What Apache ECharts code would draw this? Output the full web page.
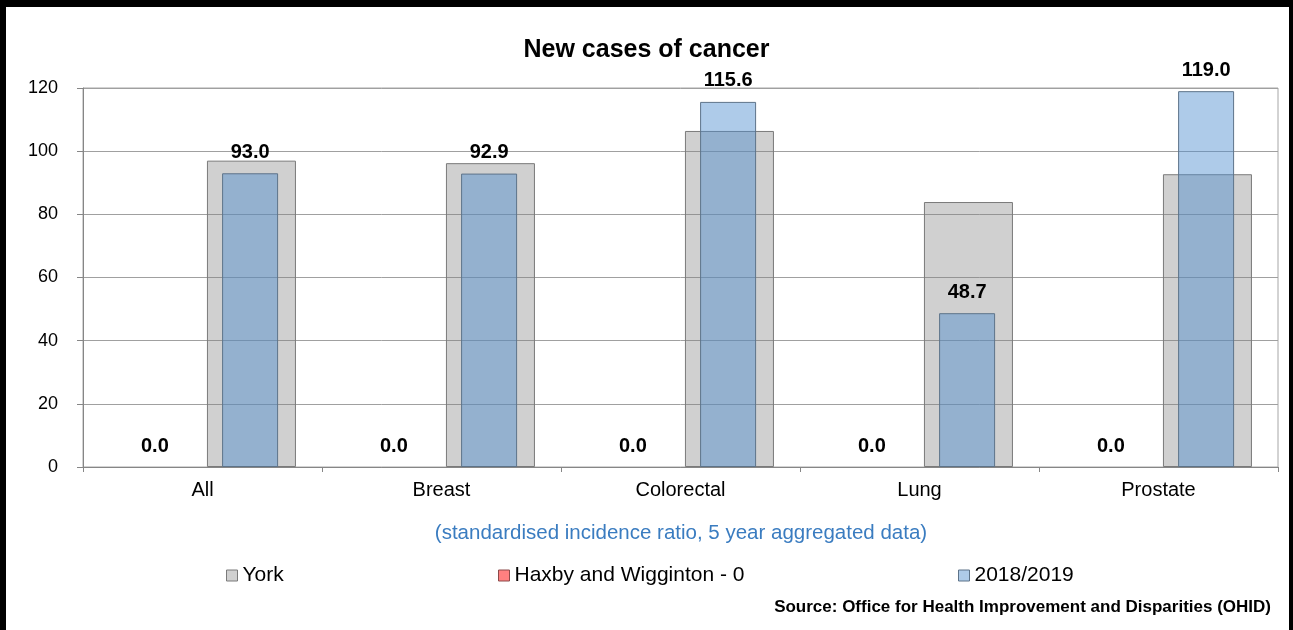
<!DOCTYPE html>
<html>
<head>
<meta charset="utf-8">
<title>New cases of cancer</title>
<script src="https://cdn.jsdelivr.net/npm/echarts@6/dist/echarts.min.js"></script>
<style>
  html, body { margin: 0; padding: 0; background: #ffffff; }
  #chart { width: 1293px; height: 630px; }
</style>
</head>
<body>
<div id="chart"></div>
<script>
// Cancer incidence: standardised incidence ratio, 5 year aggregated data
const categories = ['All', 'Breast', 'Colorectal', 'Lung', 'Prostate'];
const yorkValues = [97.0, 96.2, 106.4, 83.9, 92.7];
const haxbyValues = [0, 0, 0, 0, 0];
const period1819Values = [93.0, 92.9, 115.6, 48.7, 119.0];
const yAxisTicks = { min: 0, max: 120, step: 20 };

const seriesNames = ['York', 'Haxby and Wigginton - 0', '2018/2019'];
const FONT = '"Liberation Sans", Arial, Helvetica, sans-serif';

const yorkStyle = { color: 'rgba(128,128,128,0.37)', borderColor: '#7a7a7a', borderWidth: 1 };
const haxbyStyle = { color: '#ff8080', borderColor: '#8c4a4a', borderWidth: 1 };
const periodStyle = { color: 'rgba(79,142,207,0.46)', borderColor: '#5d7389', borderWidth: 1 };

const chart = echarts.init(document.getElementById('chart'), null, { renderer: 'canvas' });

const valueLabel = {
  show: true,
  position: 'top',
  distance: 11,
  fontFamily: FONT,
  fontSize: 20,
  fontWeight: 'bold',
  color: '#000000',
  formatter: p => Number(p.value).toFixed(1)
};

function legendAt(name, style, left) {
  return {
    data: [{ name: name, itemStyle: style }],
    left: left,
    top: 565,
    padding: 0,
    icon: 'rect',
    itemWidth: 11,
    itemHeight: 11,
    selectedMode: false,
    textStyle: { fontFamily: FONT, fontSize: 21, color: '#000000' }
  };
}

chart.setOption({
  animation: false,
  backgroundColor: '#ffffff',
  textStyle: { fontFamily: FONT },
  title: {
    text: 'New cases of cancer',
    left: 'center',
    top: 33,
    textStyle: { fontFamily: FONT, fontSize: 25, fontWeight: 'bold', color: '#000000' }
  },
  legend: [
    legendAt(seriesNames[0], yorkStyle, 226),
    legendAt(seriesNames[1], haxbyStyle, 498),
    legendAt(seriesNames[2], periodStyle, 958)
  ],
  grid: {
    left: 83,
    right: 15,
    top: 88,
    bottom: 163,
    show: true,
    borderColor: '#a6a6a6',
    borderWidth: 1,
    containLabel: false
  },
  xAxis: [
    {
      type: 'category',
      data: categories,
      axisLine: { show: true, lineStyle: { color: '#868686', width: 1 } },
      axisTick: { show: true, length: 5, lineStyle: { color: '#868686' } },
      axisLabel: { fontFamily: FONT, fontSize: 20, color: '#000000', margin: 13 }
    },
    {
      type: 'category',
      data: categories,
      position: 'bottom',
      show: false
    }
  ],
  yAxis: {
    type: 'value',
    min: yAxisTicks.min,
    max: yAxisTicks.max,
    interval: yAxisTicks.step,
    axisLine: { show: true, lineStyle: { color: '#868686', width: 1 } },
    axisTick: { show: true, length: 6, lineStyle: { color: '#868686' } },
    axisLabel: { fontFamily: FONT, fontSize: 18, color: '#000000', margin: 25 },
    splitLine: { show: true, lineStyle: { color: '#a0a0a0', width: 1 } }
  },
  series: [
    // empty slot so the York bar sits on the right half of each category
    {
      name: 'slot',
      type: 'bar',
      xAxisIndex: 1,
      data: categories.map(() => '-'),
      barWidth: 89,
      barGap: '10%',
      silent: true
    },
    {
      name: seriesNames[0],
      type: 'bar',
      xAxisIndex: 1,
      data: yorkValues,
      barWidth: 89,
      barGap: '10%',
      itemStyle: yorkStyle
    },
    {
      name: seriesNames[1],
      type: 'bar',
      xAxisIndex: 0,
      data: haxbyValues,
      barWidth: 56,
      barGap: '70%',
      // zero-height bars: no outline along the baseline
      itemStyle: { color: haxbyStyle.color, borderWidth: 0 },
      label: valueLabel
    },
    {
      name: seriesNames[2],
      type: 'bar',
      xAxisIndex: 0,
      data: period1819Values,
      barWidth: 56,
      barGap: '70%',
      itemStyle: periodStyle,
      label: valueLabel
    }
  ],
  graphic: [
    {
      type: 'text',
      x: 681,
      y: 533,
      style: {
        text: '(standardised incidence ratio, 5 year aggregated data)',
        fontFamily: FONT,
        fontSize: 20.5,
        fill: '#3a7cc0',
        textAlign: 'center',
        textVerticalAlign: 'middle'
      }
    },
    {
      type: 'text',
      x: 1271,
      y: 607,
      style: {
        text: 'Source: Office for Health Improvement and Disparities (OHID)',
        fontFamily: FONT,
        fontSize: 17,
        fontWeight: 'bold',
        fill: '#000000',
        textAlign: 'right',
        textVerticalAlign: 'middle'
      }
    },
    // outer frame
    { type: 'rect', shape: { x: 0, y: 0, width: 1293, height: 7 }, style: { fill: '#000000' } },
    { type: 'rect', shape: { x: 0, y: 0, width: 6, height: 630 }, style: { fill: '#000000' } },
    { type: 'rect', shape: { x: 1289, y: 0, width: 4, height: 630 }, style: { fill: '#000000' } }
  ]
});
</script>
</body>
</html>
